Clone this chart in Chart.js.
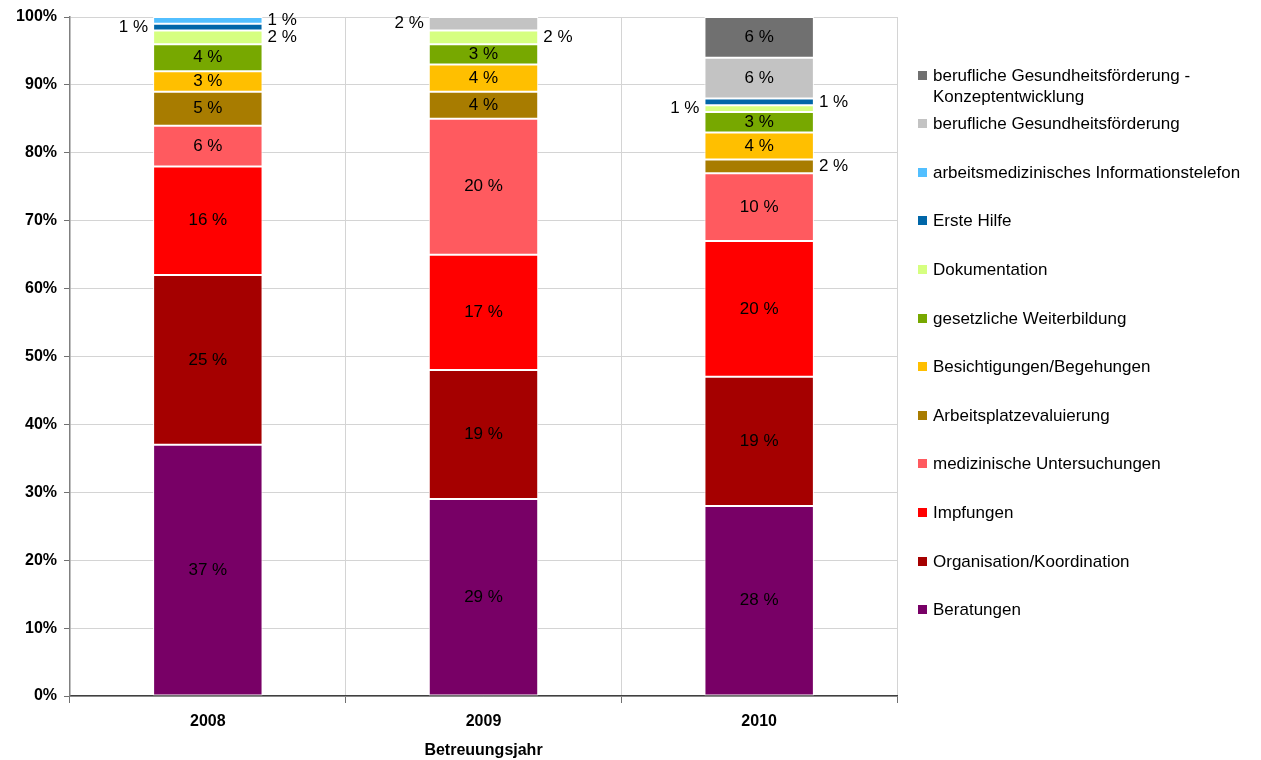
<!DOCTYPE html>
<html>
<head>
<meta charset="utf-8">
<script src="https://cdn.jsdelivr.net/npm/chart.js@4/dist/chart.umd.min.js"></script>
<style>
    body { margin: 0; background: #fff; width: 1261px; height: 760px; overflow: hidden; position: relative; font-family: "Liberation Sans", Arial, sans-serif; }
    #chart { position: absolute; left: 0; top: 0; }
    .legend-item { position: absolute; left: 918px; font-size: 17px; line-height: 21px; color: #000; }
    .legend-item .box { position: absolute; left: 0; top: 6px; width: 9px; height: 9px; }
    .legend-item .text { position: absolute; left: 15px; top: 0; width: 328px; }
</style>
</head>
<body>
<canvas id="chart" width="1261" height="760"></canvas>
<div id="legend"></div>
<script>
const years = ['2008', '2009', '2010']

const categories = [
    'Beratungen',
    'Organisation/Koordination',
    'Impfungen',
    'medizinische Untersuchungen',
    'Arbeitsplatzevaluierung',
    'Besichtigungen/Begehungen',
    'gesetzliche Weiterbildung',
    'Dokumentation',
    'Erste Hilfe',
    'arbeitsmedizinisches Informationstelefon',
    'berufliche Gesundheitsförderung',
    'berufliche Gesundheitsförderung - Konzeptentwicklung'
]

// values per category, one per year (2008, 2009, 2010)
const beratungen = [37, 29, 28]
const organisation = [25, 19, 19]
const impfungen = [16, 17, 20]
const untersuchungen = [6, 20, 10]
const arbeitsplatz = [5, 4, 2]
const besichtigungen = [3, 4, 4]
const weiterbildung = [4, 3, 3]
const dokumentation = [2, 2, 1]
const ersteHilfe = [1, 0, 1]
const infoTelefon = [1, 0, 0]
const gesundheit = [0, 2, 6]
const konzept = [0, 0, 6]

const seriesValues = [beratungen, organisation, impfungen, untersuchungen, arbeitsplatz,
    besichtigungen, weiterbildung, dokumentation, ersteHilfe, infoTelefon, gesundheit, konzept]

const colors = ['#780066', '#a50000', '#ff0000', '#ff5a5f', '#a87c00', '#ffbf00',
    '#77a800', '#d6ff80', '#0066a8', '#52bfff', '#c3c3c3', '#707070']

const yTicks = [0, 10, 20, 30, 40, 50, 60, 70, 80, 90, 100]

const font = '"Liberation Sans", Arial, sans-serif'

const datasets = categories.map((name, i) => ({
    label: name,
    data: seriesValues[i],
    backgroundColor: colors[i],
    borderColor: '#fff',
    borderWidth: 1,
    borderSkipped: false,
    barPercentage: 0.397,
    categoryPercentage: 1
}))

// draws "NN %" into each segment, small ones beside the bar (alternating right / left)
const segmentLabels = {
    id: 'segmentLabels',
    afterDatasetsDraw(chart) {
        const ctx = chart.ctx
        ctx.save()
        ctx.font = '17px ' + font
        ctx.fillStyle = '#000'
        ctx.textBaseline = 'middle'
        years.forEach((y, j) => {
            let side = 0
            chart.data.datasets.forEach((ds, i) => {
                const v = ds.data[j]
                if (!v) return
                const bar = chart.getDatasetMeta(i).data[j]
                const cy = (bar.y + bar.base) / 2
                const text = v + ' %'
                if (v > 2) {
                    ctx.textAlign = 'center'
                    ctx.fillText(text, bar.x, cy)
                } else {
                    const half = bar.width / 2
                    if (side % 2 === 0) {
                        ctx.textAlign = 'left'
                        ctx.fillText(text, bar.x + half + 5, cy)
                    } else {
                        ctx.textAlign = 'right'
                        ctx.fillText(text, bar.x - half - 5, cy)
                    }
                    side++
                }
            })
        })
        ctx.restore()
    }
}

new Chart(document.getElementById('chart'), {
    type: 'bar',
    data: { labels: years, datasets },
    plugins: [segmentLabels],
    options: {
        responsive: false,
        animation: false,
        layout: { padding: { top: 17, right: 364, left: 0, bottom: 0 } },
        plugins: { legend: { display: false }, tooltip: { enabled: false } },
        scales: {
            x: {
                stacked: true,
                grid: { color: '#d4d4d4', offset: true, tickLength: 7, tickColor: '#707070' },
                border: { color: '#404040', width: 1.5 },
                ticks: { color: '#000', font: { family: font, size: 16, weight: 'bold' }, padding: 9 },
                title: { display: true, text: 'Betreuungsjahr', color: '#000', font: { family: font, size: 16, weight: 'bold' }, padding: { top: 4, bottom: 0 } },
                afterFit: scale => { scale.height = 64 }
            },
            y: {
                stacked: true,
                min: 0,
                max: 100,
                afterBuildTicks: scale => { scale.ticks = yTicks.map(v => ({ value: v })) },
                grid: { color: '#d4d4d4', tickLength: 6, tickColor: '#707070' },
                border: { color: '#808080', width: 1.5 },
                ticks: { color: '#000', font: { family: font, size: 16, weight: 'bold' }, padding: 7, callback: v => v + '%' },
                afterFit: scale => { scale.width = 70 }
            }
        }
    }
})

// legend on the right, top to bottom in reverse stacking order
const legendElement = document.getElementById('legend')
for (let k = categories.length - 1; k >= 0; k--) {
    const idx = categories.length - 1 - k
    const item = document.createElement('div')
    item.className = 'legend-item'
    item.style.top = (75 + 48.6 * idx - 10.5) + 'px'
    const box = document.createElement('span')
    box.className = 'box'
    box.style.background = colors[k]
    const text = document.createElement('span')
    text.className = 'text'
    text.textContent = categories[k]
    item.appendChild(box)
    item.appendChild(text)
    legendElement.appendChild(item)
}
</script>
</body>
</html>
